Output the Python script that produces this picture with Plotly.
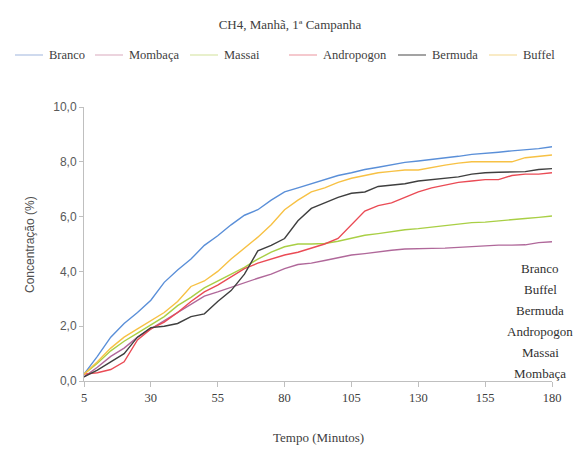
import plotly.graph_objects as go

minutes = list(range(5, 181, 5))

branco = [0.25, 0.9, 1.6, 2.1, 2.5, 2.95, 3.6, 4.05, 4.45, 4.95, 5.3, 5.7, 6.05, 6.25, 6.6, 6.9,
          7.05, 7.2, 7.35, 7.5, 7.6, 7.72, 7.8, 7.9, 7.98, 8.03, 8.08, 8.15, 8.2, 8.27, 8.3, 8.35,
          8.4, 8.43, 8.48, 8.55]
mombaca = [0.15, 0.5, 0.9, 1.2, 1.6, 1.9, 2.2, 2.5, 2.8, 3.1, 3.25, 3.42, 3.6, 3.75, 3.9, 4.1,
           4.25, 4.3, 4.4, 4.5, 4.6, 4.65, 4.72, 4.77, 4.82, 4.84, 4.84, 4.85, 4.88, 4.92, 4.95,
           4.96, 4.96, 4.97, 5.05, 5.08]
massai = [0.25, 0.65, 1.1, 1.45, 1.75, 2.05, 2.35, 2.75, 3.05, 3.4, 3.65, 3.9, 4.15, 4.45, 4.7,
          4.9, 5.0, 5.0, 5.02, 5.1, 5.2, 5.32, 5.38, 5.45, 5.52, 5.56, 5.62, 5.68, 5.74, 5.78, 5.8,
          5.85, 5.9, 5.93, 5.97, 6.02]
andropogon = [0.25, 0.3, 0.42, 0.7, 1.5, 1.9, 2.15, 2.5, 2.9, 3.25, 3.5, 3.8, 4.1, 4.3, 4.45, 4.6,
              4.7, 4.85, 5.0, 5.2, 5.7, 6.2, 6.4, 6.5, 6.7, 6.9, 7.05, 7.15, 7.25, 7.3, 7.35, 7.35,
              7.5, 7.55, 7.55, 7.6]
bermuda = [0.15, 0.4, 0.7, 1.0, 1.6, 1.95, 2.0, 2.1, 2.35, 2.45, 2.9, 3.3, 3.9, 4.75, 4.95, 5.2,
           5.85, 6.3, 6.5, 6.7, 6.85, 6.9, 7.1, 7.15, 7.2, 7.3, 7.35, 7.4, 7.45, 7.55, 7.6, 7.62,
           7.64, 7.64, 7.72, 7.75]
buffel = [0.25, 0.7, 1.2, 1.6, 1.9, 2.2, 2.5, 2.9, 3.45, 3.65, 4.0, 4.45, 4.85, 5.25, 5.7, 6.25,
          6.6, 6.9, 7.05, 7.25, 7.4, 7.5, 7.6, 7.65, 7.7, 7.7, 7.8, 7.88, 7.95, 8.0, 8.0, 8.0,
          8.0, 8.15, 8.2, 8.25]

series_names = ["Branco", "Mombaça", "Massai", "Andropogon", "Bermuda", "Buffel"]
series_values = [branco, mombaca, massai, andropogon, bermuda, buffel]
colors = ["#5a8fd8", "#b0689a", "#a9cf45", "#ea4b55", "#3f3f3f", "#f7c144"]
legend_colors = ["#c3d1ea", "#e8c9d6", "#e3edbf", "#f3bcc2", "#8c8c8c", "#f8e6b8"]

label_order = ["Branco", "Buffel", "Bermuda", "Andropogon", "Massai", "Mombaça"]

y_ticks = [0, 2, 4, 6, 8, 10]
y_tick_text = ["0,0", "2,0", "4,0", "6,0", "8,0", "10,0"]
x_ticks = [5, 30, 55, 80, 105, 130, 155, 180]

fig = go.Figure()
for name, vals, c in zip(series_names, series_values, colors):
    fig.add_trace(go.Scatter(x=minutes, y=vals, mode="lines", name=name,
                             line=dict(color=c, width=1.4), showlegend=False))

serif = "Liberation Serif"
sans = "Liberation Sans"
W, H = 580, 449

fig.update_layout(
    width=W, height=H,
    margin=dict(l=84, r=28, t=107, b=68),
    paper_bgcolor="white", plot_bgcolor="white",
    showlegend=False,
    title=dict(text="CH4, Manhã, 1ª Campanha", x=0.5, xref="container", xanchor="center",
               y=1 - 24 / H, yref="container", yanchor="middle",
               font=dict(family=serif, size=13, color="#404040")),
    xaxis=dict(range=[5, 180], tickvals=x_ticks, ticktext=[str(v) for v in x_ticks],
               showgrid=False, zeroline=False, showline=True, linecolor="#bfbfbf", linewidth=1,
               ticks="outside", ticklen=5, tickcolor="#bfbfbf",
               tickfont=dict(family=serif, size=12.5, color="#404040")),
    yaxis=dict(range=[0, 10], tickvals=y_ticks, ticktext=y_tick_text,
               showgrid=False, zeroline=False, showline=True, linecolor="#bfbfbf", linewidth=1,
               ticks="outside", ticklen=4, tickcolor="#bfbfbf",
               tickfont=dict(family=sans, size=12, color="#595959")),
)

# manual one-row legend (pixel layout converted to paper fractions)
pw, ph = W - 84 - 28, H - 107 - 68
def px_x(px):
    return (px - 84) / pw
def px_y(py):
    return (H - 68 - py) / ph

legend_text_x = [47, 127, 222, 321, 430, 521]
legend_y = 55
for name, c, tx in zip(series_names, legend_colors, legend_text_x):
    fig.add_shape(type="line", xref="paper", yref="paper",
                  x0=px_x(tx - 32), x1=px_x(tx - 4), y0=px_y(legend_y), y1=px_y(legend_y),
                  line=dict(color=c, width=1.6))
    fig.add_annotation(text=name, xref="paper", yref="paper", x=px_x(tx), y=px_y(legend_y),
                       xanchor="left", yanchor="middle", showarrow=False,
                       font=dict(family=serif, size=12.5, color="#404040"))

fig.add_annotation(text="Concentração (%)", xref="paper", yref="paper",
                   x=px_x(30), y=px_y(245), textangle=-90, showarrow=False,
                   xanchor="center", yanchor="middle",
                   font=dict(family=sans, size=12, color="#505050"))
fig.add_annotation(text="Tempo (Minutos)", xref="paper", yref="paper",
                   x=px_x(318), y=px_y(437), showarrow=False,
                   xanchor="center", yanchor="middle",
                   font=dict(family=serif, size=13, color="#404040"))

label_y = [268, 289, 310, 331, 352, 373]
for txt, py in zip(label_order, label_y):
    fig.add_annotation(text=txt, xref="paper", yref="paper",
                       x=px_x(540), y=px_y(py), showarrow=False,
                       xanchor="center", yanchor="middle",
                       font=dict(family=serif, size=13, color="#303030"))

fig.write_html("out.html")
